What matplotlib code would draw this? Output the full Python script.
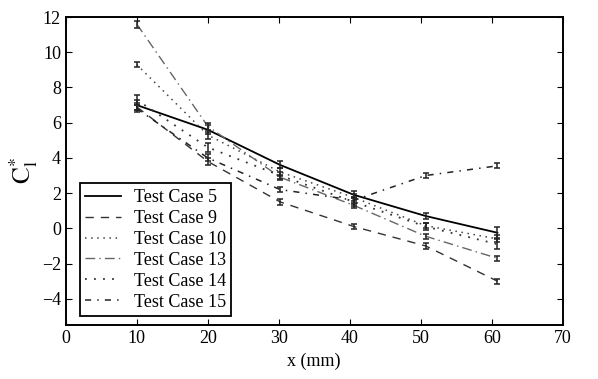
import matplotlib.pyplot as plt

plt.rcParams['font.family'] = 'Liberation Serif'
plt.rcParams['mathtext.fontset'] = 'stix'

# measurement stations (mm)
x_pos = [10, 20, 30.2, 40.6, 50.7, 60.8]

case_labels = ["Test Case 5", "Test Case 9", "Test Case 10",
               "Test Case 13", "Test Case 14", "Test Case 15"]

tc5 = [7.0, 5.6, 3.6, 1.9, 0.7, -0.25]
tc9 = [6.9, 3.8, 1.5, 0.1, -1.0, -3.0]
tc10 = [9.3, 5.3, 3.2, 1.75, 0.15, -0.6]
tc13 = [11.6, 5.8, 2.9, 1.3, -0.45, -1.7]
tc14 = [7.3, 4.6, 3.0, 1.5, 0.1, -0.9]
tc15 = [6.8, 4.0, 2.2, 1.6, 3.0, 3.55]

err5 = [0.3, 0.25, 0.2, 0.2, 0.15, 0.3]
err9 = [0.2, 0.2, 0.15, 0.15, 0.15, 0.15]
err10 = [0.15, 0.2, 0.2, 0.2, 0.15, 0.2]
err13 = [0.2, 0.2, 0.15, 0.15, 0.15, 0.15]
err14 = [0.3, 0.25, 0.2, 0.25, 0.2, 0.3]
err15 = [0.2, 0.2, 0.15, 0.2, 0.15, 0.15]

fig = plt.figure(figsize=(5.98, 3.79), dpi=100)
ax = fig.add_axes([0.110, 0.142, 0.831, 0.813])

styles = [
    ("-", "black", 1.3),
    ((0, (6, 5)), "#333333", 1.0),
    ((0, (1, 3)), "#444444", 1.1),
    ((0, (7, 3, 1, 3)), "#666666", 1.0),
    ((0, (1, 4)), "#333333", 1.3),
    ((0, (4, 4, 1, 4)), "#222222", 1.1),
]
series = [tc5, tc9, tc10, tc13, tc14, tc15]
errs = [err5, err9, err10, err13, err14, err15]

for vals, e, lab, (ls, col, lw) in zip(series, errs, case_labels, styles):
    ax.plot(x_pos, vals, linestyle=ls, color=col, lw=lw, label=lab)
    ax.errorbar(x_pos, vals, yerr=e, fmt='none', ecolor='#222222',
                elinewidth=1.1, capsize=2.5, capthick=1.1)

ax.set_xlim(0, 70)
ax.set_ylim(-5.5, 12)
ax.set_xticks(range(0, 71, 10))
ax.set_yticks(range(-4, 13, 2))
ax.tick_params(direction='in', top=True, right=True, labelsize=13, length=4)
for sp in ax.spines.values():
    sp.set_linewidth(1.4)

ax.set_xlabel("x (mm)", fontsize=13)
ax.set_ylabel(r"$\mathrm{C}_\mathrm{l}^{*}$", fontsize=18, labelpad=1)

leg = ax.legend(loc='lower left', fontsize=13, fancybox=False,
                edgecolor='black', framealpha=1, handlelength=2.0,
                borderaxespad=0.5, labelspacing=0.22, handletextpad=0.7,
                borderpad=0.3, bbox_to_anchor=(0.01, 0.0))
leg.get_frame().set_linewidth(1.3)

fig.savefig("out.png", dpi=100)
